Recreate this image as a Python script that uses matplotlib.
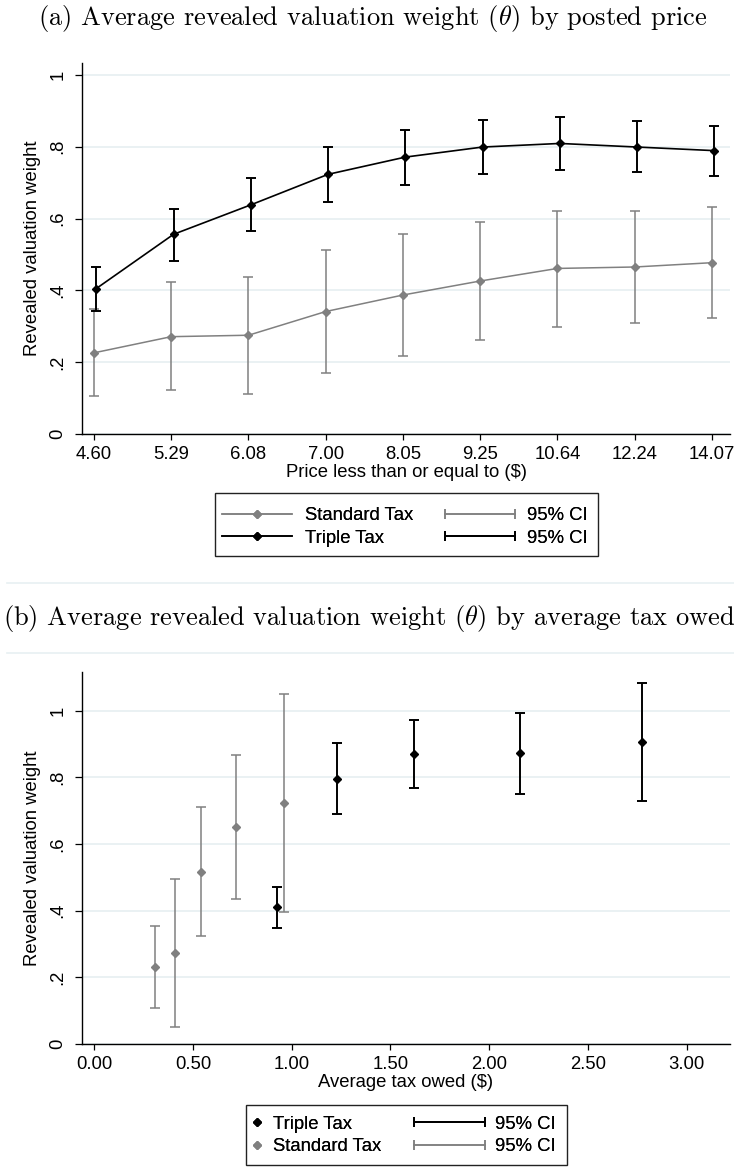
import matplotlib
matplotlib.use("Agg")
import matplotlib.pyplot as plt
import numpy as np
from matplotlib.lines import Line2D
from matplotlib.patches import Rectangle
from matplotlib.legend_handler import HandlerLine2D

# ---- panel (a): by posted price ----
price_labels = ["4.60", "5.29", "6.08", "7.00", "8.05", "9.25", "10.64", "12.24", "14.07"]
std_mean = [0.226, 0.271, 0.275, 0.341, 0.387, 0.426, 0.461, 0.465, 0.477]
std_lo = [0.105, 0.123, 0.112, 0.170, 0.218, 0.261, 0.299, 0.308, 0.323]
std_hi = [0.347, 0.422, 0.438, 0.512, 0.557, 0.590, 0.622, 0.622, 0.631]
tri_mean = [0.405, 0.556, 0.638, 0.723, 0.771, 0.799, 0.809, 0.799, 0.789]
tri_lo = [0.343, 0.483, 0.564, 0.646, 0.694, 0.724, 0.736, 0.729, 0.718]
tri_hi = [0.466, 0.626, 0.712, 0.800, 0.846, 0.873, 0.882, 0.871, 0.858]

# ---- panel (b): by average tax owed ----
std_tax = [0.306, 0.407, 0.539, 0.716, 0.959]
std_b_mean = [0.231, 0.273, 0.516, 0.651, 0.723]
std_b_lo = [0.109, 0.052, 0.323, 0.436, 0.396]
std_b_hi = [0.354, 0.494, 0.710, 0.868, 1.050]
tri_tax = [0.924, 1.228, 1.618, 2.155, 2.774]
tri_b_mean = [0.410, 0.796, 0.870, 0.872, 0.905]
tri_b_lo = [0.347, 0.690, 0.768, 0.751, 0.730]
tri_b_hi = [0.472, 0.902, 0.972, 0.994, 1.082]

y_ticks = [0, 0.2, 0.4, 0.6, 0.8, 1.0]
y_labels = ["0", ".2", ".4", ".6", ".8", "1"]
tax_ticks = [0, 0.5, 1.0, 1.5, 2.0, 2.5, 3.0]
tax_labels = ["0.00", "0.50", "1.00", "1.50", "2.00", "2.50", "3.00"]

plt.rcParams["font.family"] = ["Liberation Sans", "DejaVu Sans"]
plt.rcParams["mathtext.fontset"] = "cm"

W, H = 734, 1167
BLACK = "#000000"
GRAY = "#808080"
GRID = "#e8f0f2"
FS = 13.3

fig = plt.figure(figsize=(W / 100, H / 100), dpi=100)


def px_axes(left, top, right, bottom):
    return fig.add_axes([left / W, 1 - bottom / H, (right - left) / W, (bottom - top) / H])


def style(ax):
    for s in ["top", "right"]:
        ax.spines[s].set_visible(False)
    for s in ["left", "bottom"]:
        ax.spines[s].set_linewidth(1.0)
    ax.set_yticks(y_ticks)
    ax.set_yticklabels(y_labels)
    ax.tick_params(axis="y", labelrotation=90, length=5, width=0.9, pad=6, labelsize=FS)
    ax.tick_params(axis="x", length=4.5, width=0.9, pad=4, labelsize=FS)
    for lab in ax.get_yticklabels():
        lab.set_va("center")
    ax.yaxis.grid(True, color=GRID, lw=1.3)
    ax.set_axisbelow(True)
    ax.set_ylabel("Revealed valuation weight", fontsize=FS, labelpad=6)


def err(m, lo, hi):
    m = np.array(m)
    return [m - np.array(lo), np.array(hi) - m]


# ---------------- panel (a) ----------------
ax1 = px_axes(82, 63, 730, 434)
xa = np.arange(1, len(price_labels) + 1)
ax1.errorbar(xa, std_mean, yerr=err(std_mean, std_lo, std_hi), fmt="none",
             ecolor=GRAY, elinewidth=1.1, capsize=3.3, capthick=1.1, zorder=2)
ax1.plot(xa, std_mean, color=GRAY, lw=1.1, marker="D", ms=4.3, mec=GRAY, mfc=GRAY, zorder=3)
ax1.errorbar(xa + 0.03, tri_mean, yerr=err(tri_mean, tri_lo, tri_hi), fmt="none",
             ecolor=BLACK, elinewidth=1.4, capsize=3.3, capthick=1.4, zorder=4)
ax1.plot(xa + 0.03, tri_mean, color=BLACK, lw=1.2, marker="D", ms=4.3, zorder=5)
ax1.set_xlim(0.845, 9.233)
ax1.set_ylim(0, 1.033)
ax1.set_xticks(xa)
ax1.set_xticklabels(price_labels)
style(ax1)
ax1.set_xlabel("Price less than or equal to ($)", fontsize=FS, labelpad=1)

# ---------------- panel (b) ----------------
ax2 = px_axes(82, 672, 730, 1044)
ax2.errorbar(std_tax, std_b_mean, yerr=err(std_b_mean, std_b_lo, std_b_hi), fmt="none",
             ecolor=GRAY, elinewidth=1.1, capsize=3.3, capthick=1.1, zorder=2)
ax2.plot(std_tax, std_b_mean, ls="none", marker="D", ms=4.3, color=GRAY, zorder=3)
ax2.errorbar(tri_tax, tri_b_mean, yerr=err(tri_b_mean, tri_b_lo, tri_b_hi), fmt="none",
             ecolor=BLACK, elinewidth=1.4, capsize=3.3, capthick=1.4, zorder=4)
ax2.plot(tri_tax, tri_b_mean, ls="none", marker="D", ms=4.3, color=BLACK, zorder=5)
ax2.set_xlim(-0.062, 3.22)
ax2.set_ylim(0, 1.116)
ax2.set_xticks(tax_ticks)
ax2.set_xticklabels(tax_labels)
style(ax2)
ax2.set_xlabel("Average tax owed ($)", fontsize=FS, labelpad=1)


# ---------------- legends ----------------
ci_handler = HandlerLine2D(numpoints=2, marker_pad=0)


def ci_key(color, lw):
    return Line2D([], [], color=color, lw=lw, marker="|", ms=7, mew=lw)


def legend_part(handles, labels, x_left, y_mid, hlen, tpad, hmap=None):
    leg = fig.legend(handles, labels, loc="center left",
                     bbox_to_anchor=(x_left / W, 1 - y_mid / H),
                     frameon=False, borderpad=0, borderaxespad=0,
                     handlelength=hlen, handletextpad=tpad, labelspacing=0.3,
                     fontsize=FS, handler_map=hmap)
    fig.add_artist(leg)
    return leg


def legend_box(left, top, right, bottom):
    fig.add_artist(Rectangle((left / W, 1 - bottom / H), (right - left) / W, (bottom - top) / H,
                             transform=fig.transFigure, fill=False, ec="#222222", lw=1.0))


# panel (a) legend
std_key = Line2D([], [], color=GRAY, lw=1.1, marker="D", ms=4.3)
tri_key = Line2D([], [], color=BLACK, lw=1.2, marker="D", ms=4.3)
std_ci = ci_key(GRAY, 1.1)
tri_ci = ci_key(BLACK, 1.4)
legend_part([std_key, tri_key], ["Standard Tax", "Triple Tax"], 222, 527, 70 / 18.5, 0.7)
legend_part([std_ci, tri_ci], ["95% CI", "95% CI"], 445, 527, 70 / 18.5, 0.65,
            {std_ci: ci_handler, tri_ci: ci_handler})
legend_box(215, 493, 598, 556)

# panel (b) legend
tri_pt = Line2D([], [], ls="none", color=BLACK, marker="D", ms=4.3)
std_pt = Line2D([], [], ls="none", color=GRAY, marker="D", ms=4.3)
tri_ci2 = ci_key(BLACK, 1.4)
std_ci2 = ci_key(GRAY, 1.1)
legend_part([tri_pt, std_pt], ["Triple Tax", "Standard Tax"], 250, 1135.5, 14 / 18.5, 0.5)
legend_part([tri_ci2, std_ci2], ["95% CI", "95% CI"], 414, 1135.5, 71 / 18.5, 0.55,
            {tri_ci2: ci_handler, std_ci2: ci_handler})
legend_box(246, 1105, 567, 1165)

# ---------------- titles and separators ----------------
fig.text(373 / W, 1 - 18 / H, r"(a) Average revealed valuation weight ($\theta$) by posted price",
         family="cmr10", fontsize=19, ha="center", va="center")
fig.text(369 / W, 1 - 618 / H, r"(b) Average revealed valuation weight ($\theta$) by average tax owed",
         family="cmr10", fontsize=19, ha="center", va="center")
for yy in [583, 653]:
    fig.add_artist(Line2D([7 / W, 1], [1 - yy / H, 1 - yy / H], color=GRID, lw=1.2,
                          transform=fig.transFigure))

fig.savefig("out.png", dpi=100)
